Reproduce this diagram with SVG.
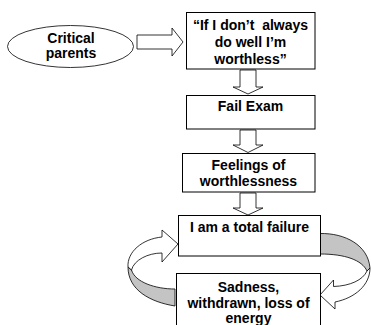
<svg xmlns="http://www.w3.org/2000/svg" width="371" height="325" viewBox="0 0 371 325">
<style>
.box{fill:#fff;stroke:#000;stroke-width:1}
.arr{fill:#fff;stroke:#000;stroke-width:0.8;stroke-linejoin:miter}
.shade{fill:#c4c4c4;stroke:#000;stroke-width:0.8}
text{font-family:"Liberation Sans",Arial,sans-serif;font-weight:bold;font-size:14px;fill:#000;text-anchor:middle}
</style>
<rect width="371" height="325" fill="#fff"/>
<g id="connectors">
<polygon class="arr" points="137,35 172,35 172,28 183,42 172,56 172,49 137,49"/>
<polygon class="arr" points="240,70 256,70 256,87 263,87 248,94 233,87 240,87"/>
<polygon class="arr" points="240,130 256,130 256,145 263,145 248,152.5 233,145 240,145"/>
<polygon class="arr" points="240,193 256,193 256,208 263,208 248,215 233,208 240,208"/>
<g id="loop-left">
<path class="shade" d="M131.5,270 C135,282 155,289 175,289 L175,306 C150,302 128,290 128,267 Z"/>
<path class="arr" d="M128,267 C127,252 142,239 162,237 L162,230 L178,244 L162,262 L162,253 C148,253 134,260 131.5,270 Z"/>
</g>
<g id="loop-right">
<path class="shade" d="M320,233.5 C345,233 368,245 370,268 L367,271 C362,260 345,254 320,254 Z"/>
<path class="arr" d="M370,268 C370,285 355,298 335,302 L335,309 L320,295 L333.5,280 L333.5,286.5 C350,286 363,280 367,271 Z"/>
</g>
</g>
<g id="critical-parents">
<ellipse cx="70.5" cy="46.5" rx="63" ry="21" fill="#fff" stroke="#000" stroke-width="0.8"/>
<text x="71" y="42.5">Critical</text>
<text x="71" y="58">parents</text>
</g>
<g id="belief">
<rect class="box" x="186.5" y="12.5" width="128.5" height="56.5"/>
<text x="250.5" y="30" xml:space="preserve">“If I don’t  always</text>
<text x="250.5" y="47">do well I’m</text>
<text x="250.5" y="64">worthless”</text>
</g>
<g id="fail-exam">
<rect class="box" x="186.5" y="95.5" width="128.5" height="33.5"/>
<text x="250.5" y="111">Fail Exam</text>
</g>
<g id="feelings">
<rect class="box" x="182.5" y="153.5" width="132.5" height="38.5"/>
<text x="248.5" y="170">Feelings of</text>
<text x="248.5" y="186">worthlessness</text>
</g>
<g id="total-failure">
<rect class="box" x="178.5" y="215.5" width="142" height="40.5"/>
<text x="249.5" y="232">I am a total failure</text>
</g>
<g id="sadness">
<rect class="box" x="176.5" y="273.5" width="144" height="60"/>
<text x="248.5" y="292">Sadness,</text>
<text x="248.5" y="307.5">withdrawn, loss of</text>
<text x="248.5" y="323">energy</text>
</g>
</svg>
